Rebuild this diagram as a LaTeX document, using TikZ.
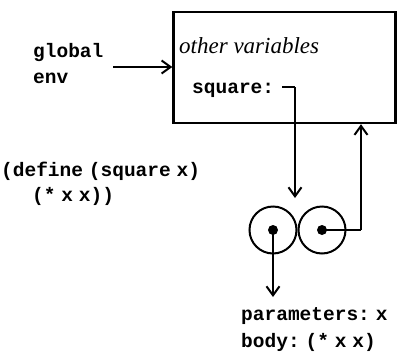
\documentclass[tikz,border=0pt]{standalone}
\usepackage{fontspec}
\setmainfont{Liberation Serif}
\setmonofont[WordSpace=0.5]{Liberation Mono}
\usetikzlibrary{arrows.meta}
\tikzset{
  code/.style={font=\ttfamily\bfseries\fontsize{19.5}{23}\selectfont, inner sep=0pt, anchor=base west},
  ptr/.style={line width=2pt, -{Straight Barb[length=9pt,width=13pt,line width=2pt]}},
  wire/.style={line width=2pt},
  pair/.style={circle, draw, line width=2pt, minimum size=47pt, inner sep=0pt},
  dot/.style={circle, fill, minimum size=10pt, inner sep=0pt}
}
\begin{document}
\begin{tikzpicture}[x=1pt,y=-1pt]
\useasboundingbox (0,0) rectangle (397,357);
\node[draw, line width=2.7pt, minimum width=222pt, minimum height=111pt, anchor=north west, inner sep=0pt] (env) at (172.3,10.5) {};
\node[code] (g1) at (33,57) {global};
\node[code] (g2) at (33,83) {env};
\coordinate (gs) at (113,67);
\draw[ptr] (gs) -- (gs -| env.west);
\node[font=\itshape\fontsize{23}{27}\selectfont, inner sep=0pt, anchor=base west] (ov) at (179,53) {other variables};
\node[code] (sq) at (192,93) {square:};
\node[pair] (c1) at (273,230) {};
\node[pair] (c2) at (322,230) {};
\node[dot] (d1) at (c1.center) {};
\node[dot] (d2) at (c2.center) {};
\coordinate (sqe) at (282,87);
\coordinate (sqc) at (295,87);
\draw[wire] (sqe) -- (sqc);
\draw[ptr] (sqc) -- (295,198);
\coordinate (rc) at (361,230);
\draw[wire] (d2.center) -- (rc);
\draw[ptr] (rc) -- (rc |- env.south);
\node[code] (def1) at (1,176) {(define (square x)};
\node[code] (def2) at (32,201) {(* x x))};
\node[code] (par) at (241,320) {parameters:\hspace{6pt}x};
\node[code] (body) at (241,347) {body: (* x x)};
\draw[ptr] (d1.center) -- (273,297);
\end{tikzpicture}
\end{document}
